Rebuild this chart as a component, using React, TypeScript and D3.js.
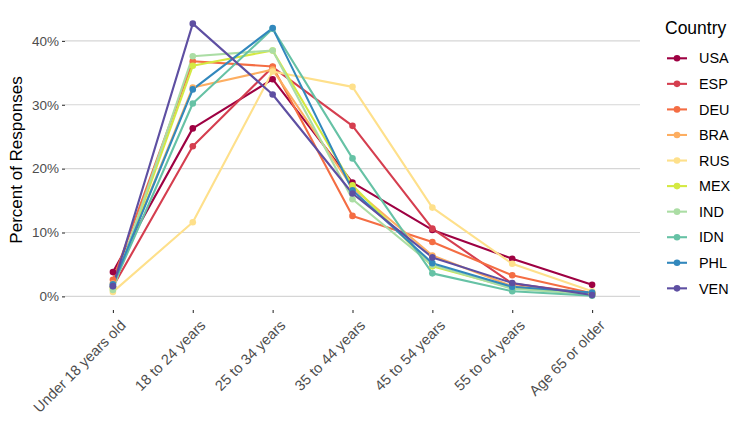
import { useRef, useEffect } from "react";
import * as d3 from "d3";

const ageGroups: string[] = [
  "Under 18 years old",
  "18 to 24 years",
  "25 to 34 years",
  "35 to 44 years",
  "45 to 54 years",
  "55 to 64 years",
  "Age 65 or older",
];

const countries: string[] = ["USA", "ESP", "DEU", "BRA", "RUS", "MEX", "IND", "IDN", "PHL", "VEN"];

// percent of responses per age group
const usa = [3.8, 26.3, 34.0, 17.8, 10.4, 5.9, 1.8];
const esp = [1.5, 23.5, 35.9, 26.7, 10.6, 2.0, 0.4];
const deu = [2.6, 36.8, 36.0, 12.6, 8.5, 3.3, 0.5];
const bra = [2.0, 32.7, 35.5, 17.0, 6.4, 1.6, 0.5];
const rus = [0.7, 11.6, 35.2, 32.8, 13.9, 5.1, 0.8];
const mex = [1.2, 36.1, 38.5, 17.4, 4.7, 1.3, 0.4];
const ind = [1.0, 37.6, 38.5, 15.2, 4.9, 1.2, 0.3];
const idn = [1.6, 30.2, 41.9, 21.6, 3.6, 0.8, 0.1];
const phl = [1.9, 32.4, 42.0, 16.6, 5.2, 1.5, 0.6];
const ven = [1.6, 42.7, 31.6, 16.1, 6.1, 2.1, 0.2];

const seriesValues: number[][] = [usa, esp, deu, bra, rus, mex, ind, idn, phl, ven];

const palette: string[] = [
  "#9E0142", "#D53E4F", "#F46D43", "#FDAE61", "#FEE08B",
  "#D4E942", "#ABDDA4", "#66C2A5", "#3288BD", "#5E4FA2",
];

const yTicks: number[] = [0, 10, 20, 30, 40];

const width = 747;
const height = 427;
const font = "'Liberation Sans', Arial, Helvetica, sans-serif";

const App = () => {
  const svgRef = useRef<SVGSVGElement>(null);

  useEffect(() => {
    document.body.style.margin = "0";
    const svg: any = d3.select(svgRef.current);
    svg.selectAll("*").remove();

    const panel = { left: 65, right: 640, top: 10, bottom: 310 };

    const x = d3.scalePoint<string>()
      .domain(ageGroups)
      .range([panel.left, panel.right])
      .padding(0.6);

    const maxVal = d3.max(seriesValues.flat()) as number;
    const pad = maxVal * 0.05;
    const y = d3.scaleLinear()
      .domain([-pad, maxVal + pad])
      .range([panel.bottom, panel.top]);

    // grid
    svg.append("g")
      .selectAll("line")
      .data(yTicks)
      .join("line")
      .attr("x1", panel.left)
      .attr("x2", panel.right)
      .attr("y1", (d: number) => y(d))
      .attr("y2", (d: number) => y(d))
      .attr("stroke", "#D6D6D6")
      .attr("stroke-width", 1.2);

    // y axis
    const yAxis = svg.append("g")
      .attr("transform", `translate(${panel.left},0)`)
      .call(d3.axisLeft(y).tickValues(yTicks).tickSize(3).tickPadding(3).tickFormat((d: any) => `${d}%`));
    yAxis.select(".domain").remove();
    yAxis.selectAll("line").attr("stroke", "#333333").attr("stroke-width", 1.1);
    yAxis.selectAll("text")
      .attr("fill", "#4D4D4D")
      .style("font-family", font)
      .style("font-size", "13.5px");

    // x axis
    const xAxis = svg.append("g")
      .attr("transform", `translate(0,${panel.bottom})`)
      .call(d3.axisBottom(x).tickSize(3).tickPadding(3));
    xAxis.select(".domain").remove();
    xAxis.selectAll("line").attr("stroke", "#333333").attr("stroke-width", 1.1);
    xAxis.selectAll("text")
      .attr("fill", "#4D4D4D")
      .style("font-family", font)
      .style("font-size", "14.6px")
      .attr("text-anchor", "end")
      .attr("y", 0)
      .attr("dy", "0.7em")
      .attr("transform", "translate(6,9) rotate(-45)");

    // y title
    svg.append("text")
      .attr("transform", `translate(22,${(panel.top + panel.bottom) / 2}) rotate(-90)`)
      .attr("text-anchor", "middle")
      .style("font-family", font)
      .style("font-size", "17px")
      .attr("fill", "#000")
      .text("Percent of Responses");

    const line = d3.line<number>()
      .x((_, i) => x(ageGroups[i]) as number)
      .y((d) => y(d));

    svg.append("g")
      .selectAll("path")
      .data(seriesValues)
      .join("path")
      .attr("d", (d: number[]) => line(d))
      .attr("fill", "none")
      .attr("stroke", (_: any, i: number) => palette[i])
      .attr("stroke-width", 2.1)
      .attr("stroke-linejoin", "round");

    seriesValues.forEach((vals, si) => {
      svg.append("g")
        .selectAll("circle")
        .data(vals)
        .join("circle")
        .attr("cx", (_: any, i: number) => x(ageGroups[i]))
        .attr("cy", (d: number) => y(d))
        .attr("r", 3.3)
        .attr("fill", palette[si]);
    });

    // legend
    const legend = svg.append("g").attr("transform", "translate(665,0)");
    legend.append("text")
      .attr("x", 0)
      .attr("y", 34)
      .style("font-family", font)
      .style("font-size", "17.5px")
      .attr("fill", "#000")
      .text("Country");

    const item = legend.selectAll(".item")
      .data(countries)
      .join("g")
      .attr("class", "item")
      .attr("transform", (_: any, i: number) => `translate(0,${58.3 + i * 25.56})`);
    item.append("line")
      .attr("x1", 2)
      .attr("x2", 22)
      .attr("stroke", (_: any, i: number) => palette[i])
      .attr("stroke-width", 2.1);
    item.append("circle")
      .attr("cx", 12)
      .attr("r", 3.3)
      .attr("fill", (_: any, i: number) => palette[i]);
    item.append("text")
      .attr("x", 34)
      .attr("dy", "0.36em")
      .style("font-family", font)
      .style("font-size", "14.4px")
      .attr("fill", "#000")
      .text((d: string) => d);
  }, []);

  return (
    <svg ref={svgRef} width={width} height={height} style={{ display: "block", background: "#fff" }} />
  );
};

export default App;
